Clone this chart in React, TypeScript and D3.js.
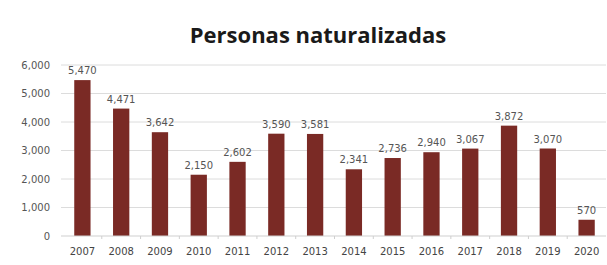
import React, { useEffect, useRef } from "react";
import * as d3 from "d3";

const years = ["2007", "2008", "2009", "2010", "2011", "2012", "2013", "2014", "2015", "2016", "2017", "2018", "2019", "2020"];
const persons = [5470, 4471, 3642, 2150, 2602, 3590, 3581, 2341, 2736, 2940, 3067, 3872, 3070, 570];
const yTicks = [0, 1000, 2000, 3000, 4000, 5000, 6000];

const width = 607;
const height = 265;

const App = () => {
  const ref = useRef<SVGSVGElement>(null);

  useEffect(() => {
    const svg = d3.select(ref.current);
    svg.selectAll("*").remove();

    const margin = { top: 65, right: 1, bottom: 29, left: 63 };

    const x = d3
      .scaleBand()
      .domain(years)
      .range([margin.left, width - margin.right])
      .paddingInner(0.58)
      .paddingOuter(0.29);

    const y = d3
      .scaleLinear()
      .domain([0, 6000])
      .range([height - margin.bottom, margin.top]);

    svg
      .append("text")
      .attr("x", 318)
      .attr("y", 43)
      .attr("text-anchor", "middle")
      .style("font-family", "'Open Sans', sans-serif")
      .style("font-weight", 700)
      .style("font-size", "22px")
      .style("fill", "#1a1a1a")
      .text("Personas naturalizadas");

    // gridlines
    svg
      .append("g")
      .selectAll("line")
      .data(yTicks.filter((d) => d > 0))
      .enter()
      .append("line")
      .attr("x1", margin.left - 2)
      .attr("x2", width - margin.right)
      .attr("y1", (d) => y(d))
      .attr("y2", (d) => y(d))
      .attr("stroke", "#dcdcdc")
      .attr("stroke-width", 1);

    const labelFont = "'DejaVu Sans', sans-serif";

    // y labels
    svg
      .append("g")
      .selectAll("text")
      .data(yTicks)
      .enter()
      .append("text")
      .attr("x", 50)
      .attr("y", (d) => y(d))
      .attr("dy", "0.35em")
      .attr("text-anchor", "end")
      .style("font-family", labelFont)
      .style("font-size", "10px")
      .style("fill", "#555")
      .text((d) => d3.format(",")(d));

    // bars
    svg
      .append("g")
      .selectAll("rect")
      .data(persons)
      .enter()
      .append("rect")
      .attr("x", (d, i) => x(years[i]) as number)
      .attr("y", (d) => y(d))
      .attr("width", x.bandwidth())
      .attr("height", (d) => y(0) - y(d))
      .attr("fill", "#7a2a25");

    // value labels
    svg
      .append("g")
      .selectAll("text")
      .data(persons)
      .enter()
      .append("text")
      .attr("x", (d, i) => (x(years[i]) as number) + x.bandwidth() / 2)
      .attr("y", (d) => y(d) - 6)
      .attr("text-anchor", "middle")
      .style("font-family", labelFont)
      .style("font-size", "10px")
      .style("fill", "#555")
      .text((d) => d3.format(",")(d));

    // baseline and ticks
    const step = x.step();
    svg
      .append("line")
      .attr("x1", margin.left - 2)
      .attr("x2", width - margin.right)
      .attr("y1", y(0))
      .attr("y2", y(0))
      .attr("stroke", "#cfcfcf");

    svg
      .append("g")
      .selectAll("line")
      .data(years.slice(1))
      .enter()
      .append("line")
      .attr("x1", (d) => (x(d) as number) - (step - x.bandwidth()) / 2)
      .attr("x2", (d) => (x(d) as number) - (step - x.bandwidth()) / 2)
      .attr("y1", y(0))
      .attr("y2", y(0) + 3)
      .attr("stroke", "#cfcfcf");

    // year labels
    svg
      .append("g")
      .selectAll("text")
      .data(years)
      .enter()
      .append("text")
      .attr("x", (d) => (x(d) as number) + x.bandwidth() / 2)
      .attr("y", y(0) + 19)
      .attr("text-anchor", "middle")
      .style("font-family", labelFont)
      .style("font-size", "10px")
      .style("fill", "#444")
      .text((d) => d);
  }, []);

  return (
    <svg
      ref={ref}
      width={width}
      height={height}
      style={{ position: "absolute", left: 0, top: 0, background: "#fff" }}
    ></svg>
  );
};

export default App;
